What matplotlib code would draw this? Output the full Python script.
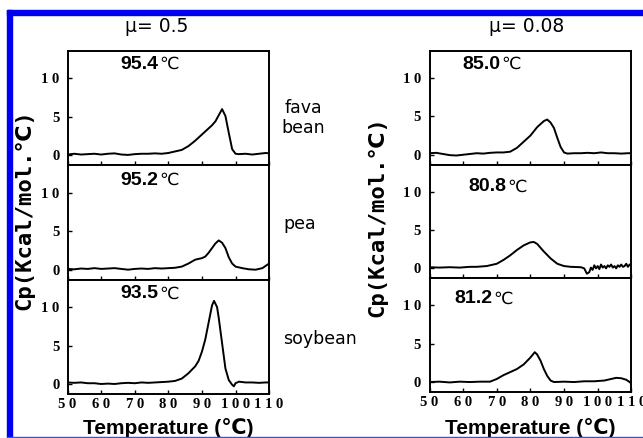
import matplotlib
matplotlib.use("Agg")
import matplotlib.pyplot as plt
from matplotlib.ticker import FuncFormatter
from matplotlib.patches import Rectangle

# ---- data (T in degC, Cp in kcal/mol.degC) ----
fava_T = [50, 52, 54, 56, 58, 60, 62, 64, 66, 68, 70, 72, 74, 76, 78, 80, 82, 84, 86, 88,
          90, 92, 93, 94, 95, 96, 97, 98, 99, 100, 101, 103, 105, 107, 109, 110]
fava_cp = [0.1, 0.2, 0.1, 0.15, 0.2, 0.1, 0.2, 0.25, 0.1, 0.05, 0.15, 0.2, 0.2, 0.25, 0.2, 0.3,
           0.5, 0.7, 1.2, 1.9, 2.7, 3.5, 3.9, 4.4, 5.2, 6.0, 5.1, 2.9, 0.8, 0.2, 0.15, 0.2,
           0.1, 0.2, 0.3, 0.25]

pea_T = [50, 52, 54, 56, 58, 60, 62, 64, 66, 68, 70, 72, 74, 76, 78, 80, 82, 84, 86, 88,
         90, 91, 92, 93, 94, 95, 96, 97, 98, 99, 100, 102, 104, 106, 108, 110]
pea_cp = [0.1, 0.05, 0.15, 0.1, 0.2, 0.1, 0.15, 0.2, 0.1, 0.0, 0.1, 0.15, 0.1, 0.2, 0.15, 0.2,
          0.25, 0.4, 0.8, 1.3, 1.5, 1.7, 2.2, 2.8, 3.4, 3.8, 3.5, 2.8, 1.6, 0.8, 0.4, 0.2,
          0.05, 0.0, 0.2, 0.8]

soy_T = [50, 52, 54, 56, 58, 60, 62, 64, 66, 68, 70, 72, 74, 76, 78, 80, 82, 84, 86, 88,
         89, 90, 91, 92, 93, 93.6, 94.5, 95, 96, 97, 98, 99, 99.5, 100, 101, 103, 105, 107, 109, 110]
soy_cp = [0.2, 0.15, 0.2, 0.1, 0.1, 0.0, 0.05, 0.0, 0.1, 0.15, 0.1, 0.2, 0.15, 0.2, 0.25, 0.3,
          0.4, 0.7, 1.4, 2.3, 3.0, 4.2, 5.8, 8.0, 10.2, 10.8, 10.0, 8.6, 5.3, 2.0, 0.5, -0.1,
          -0.3, 0.1, 0.3, 0.2, 0.2, 0.15, 0.2, 0.2]

r1_T = [50, 52, 54, 56, 58, 60, 62, 64, 66, 68, 70, 72, 74, 76, 78, 80, 82, 84, 85, 86,
        87, 88, 89, 90, 91, 93, 95, 97, 99, 101, 103, 105, 107, 109, 110]
r1_cp = [0.2, 0.25, 0.1, -0.05, -0.1, 0.0, 0.1, 0.2, 0.15, 0.25, 0.3, 0.3, 0.4, 0.9, 1.7, 2.5,
         3.6, 4.4, 4.6, 4.2, 3.5, 2.2, 1.0, 0.3, 0.15, 0.2, 0.2, 0.25, 0.2, 0.3, 0.2, 0.2,
         0.15, 0.2, 0.2]

r2_T = [50, 53, 56, 59, 62, 64, 67, 70, 72, 74, 76, 78, 80, 81, 82, 84, 86, 88, 90, 92,
        95, 96, 96.8, 97.5, 98, 98.5, 99, 99.5, 100, 100.5, 101, 101.5, 102, 102.5, 103,
        103.5, 104, 104.5, 105, 105.5, 106, 106.5, 107, 107.5, 108, 108.5, 109, 109.5, 110]
r2_cp = [0.15, 0.1, 0.15, 0.1, 0.2, 0.2, 0.3, 0.6, 1.1, 1.7, 2.4, 3.0, 3.4, 3.45, 3.2, 2.2,
         1.3, 0.6, 0.3, 0.2, 0.15, 0.0, -0.7, -0.5, 0.1, -0.2, 0.4, 0.0, 0.3, -0.1, 0.5, 0.1,
         0.3, 0.0, 0.4, 0.2, 0.5, 0.1, 0.3, 0.0, 0.4, 0.2, 0.5, 0.2, 0.3, 0.6, 0.2, 0.5, 0.4]

r3_T = [50, 53, 56, 59, 62, 65, 68, 70, 72, 74, 76, 78, 80, 81.3, 82, 83, 84, 85, 86, 87,
        90, 93, 96, 99, 102, 104, 105.5, 107, 108.5, 109.5, 110]
r3_cp = [0.0, 0.05, -0.05, 0.05, 0.0, 0.05, 0.05, 0.4, 0.9, 1.3, 1.7, 2.3, 3.2, 3.9, 3.6,
         2.8, 1.7, 0.8, 0.2, 0.0, 0.05, 0.0, 0.1, 0.1, 0.2, 0.4, 0.55, 0.5, 0.3, 0.0, -0.2]

left_T = [fava_T, pea_T, soy_T]
left_cp = [fava_cp, pea_cp, soy_cp]
right_T = [r1_T, r2_T, r3_T]
right_cp = [r1_cp, r2_cp, r3_cp]

left_peaks = ["95.4", "95.2", "93.5"]
right_peaks = ["85.0", "80.8", "81.2"]
samples = ["fava\nbean", "pea", "soybean"]
titles = ["\u03bc= 0.5", "\u03bc= 0.08"]
x_ticks = [50, 60, 70, 80, 90, 100, 110]
y_ticks = [0, 5, 10]

W, H = 643, 438
fig = plt.figure(figsize=(W / 100, H / 100), dpi=100)


def px_axes(x0, y0, x1, y1):
    return fig.add_axes([x0 / W, 1 - y1 / H, (x1 - x0) / W, (y1 - y0) / H])


spaced = FuncFormatter(lambda v, p: " ".join(str(int(round(v)))))
tick_font = dict(family="Liberation Serif", weight="bold", size=10.5)


def panel(ax, T, cp, peak, px, py, last):
    ax.plot(T, cp, color="black", lw=1.4)
    ax.set_xlim(50, 110)
    ax.set_ylim(-1.3, 13.55)
    ax.set_xticks(x_ticks)
    ax.set_yticks(y_ticks)
    ax.tick_params(direction="in", length=3, width=1, pad=6, color="black")
    ax.tick_params(axis="x", pad=3)
    ax.yaxis.set_major_formatter(spaced)
    ax.xaxis.set_major_formatter(spaced)
    for lab in ax.get_yticklabels():
        lab.set_fontproperties(tick_font)
    if last:
        for lab in ax.get_xticklabels():
            lab.set_fontproperties(tick_font)
    else:
        ax.tick_params(axis="x", labelbottom=False)
    for s in ax.spines.values():
        s.set_linewidth(1.4)
    ax.text(px, py, peak, transform=ax.transAxes, ha="right", va="center",
            fontsize=14, fontweight="bold", family=["Liberation Sans", "DejaVu Sans"])
    ax.text(px + 0.005, py, "\u2103", transform=ax.transAxes, ha="left", va="center",
            fontsize=12.5, family=["DejaVu Sans"])


# left column
tops = [51, 165.3, 279.7, 394]
for i in range(3):
    ax = px_axes(67.6, tops[i], 269.1, tops[i + 1])
    panel(ax, left_T[i], left_cp[i], left_peaks[i], 0.449, [0.885, 0.87, 0.88][i], i == 2)

# right column
rtops = [51, 164.7, 278.3, 392]
for i in range(3):
    ax = px_axes(429.5, rtops[i], 631.3, rtops[i + 1])
    panel(ax, right_T[i], right_cp[i], right_peaks[i], [0.35, 0.38, 0.31][i],
          [0.885, 0.81, 0.82][i], i == 2)

# titles
fig.text(157 / W, 1 - 32 / H, titles[0], ha="center", va="baseline", fontsize=13.5,
         family="DejaVu Sans")
fig.text(527 / W, 1 - 32 / H, titles[1], ha="center", va="baseline", fontsize=13.5,
         family="DejaVu Sans")

# sample names
fig.text(303 / W, 1 - 118 / H, samples[0], ha="center", va="center", fontsize=12.5,
         family="DejaVu Sans", linespacing=1.1)
fig.text(283 / W, 1 - 224 / H, samples[1], ha="left", va="center", fontsize=12.5,
         family="DejaVu Sans")
fig.text(283 / W, 1 - 339 / H, samples[2], ha="left", va="center", fontsize=12.5,
         family="DejaVu Sans")

# axis labels
ylab = "Cp(Kcal/mol.\u2103)"
fig.text(24 / W, 1 - 210 / H, ylab, rotation=90, ha="center", va="center", fontsize=16,
         fontweight="bold", family=["DejaVu Sans Mono", "DejaVu Sans"])
fig.text(377 / W, 1 - 217 / H, ylab, rotation=90, ha="center", va="center", fontsize=16,
         fontweight="bold", family=["DejaVu Sans Mono", "DejaVu Sans"])
xlab = "Temperature (\u2103)"
fig.text(168.5 / W, 1 - 434 / H, xlab, ha="center", va="baseline", fontsize=15,
         fontweight="bold", family=["Liberation Sans", "DejaVu Sans"])
fig.text(530.5 / W, 1 - 434 / H, xlab, ha="center", va="baseline", fontsize=15,
         fontweight="bold", family=["Liberation Sans", "DejaVu Sans"])

# blue frame
blue = "#0000f0"
fig.add_artist(Rectangle((7 / W, 0), 5 / W, 1 - 10 / H, transform=fig.transFigure,
                         color=blue, zorder=10))
fig.add_artist(Rectangle((7 / W, 1 - 15 / H), 1 - 7 / W, 5 / H, transform=fig.transFigure,
                         color=blue, zorder=10))
fig.add_artist(Rectangle((7 / W, 0), 1 - 7 / W, 1.5 / H, transform=fig.transFigure,
                         color="#3050f0", zorder=10))

fig.savefig("out.png", dpi=100)
